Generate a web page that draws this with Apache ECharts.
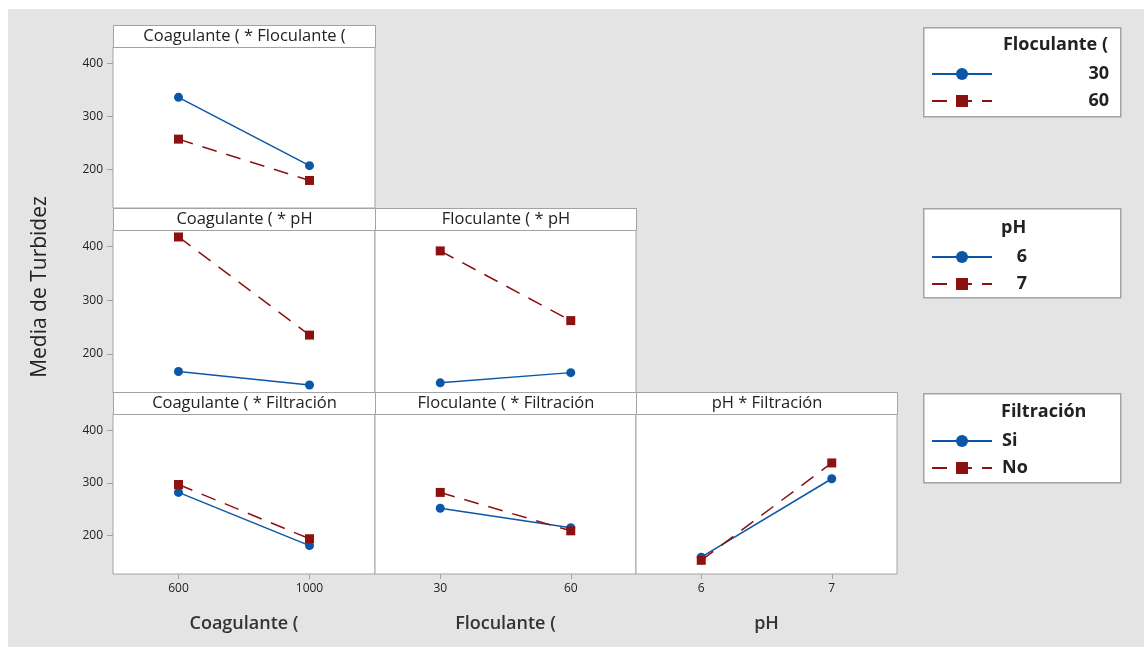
<!DOCTYPE html>
<html>
<head>
<meta charset="utf-8">
<title>Interacción para Media de Turbidez</title>
<script src="https://cdn.jsdelivr.net/npm/echarts@6/dist/echarts.min.js"></script>
<style>
  html, body { margin: 0; padding: 0; background: #fff; }
  #chart { width: 1144px; height: 647px; }
</style>
</head>
<body>
<div id="chart"></div>
<script>
// factor levels (x categories)
const coagLevels = ['600', '1000']
const flocLevels = ['30', '60']
const phLevels = ['6', '7']

// Coagulante * Floculante
const coagFloc30 = [336, 207]
const coagFloc60 = [257, 179]
// Coagulante * pH
const coagPh6 = [167, 142]
const coagPh7 = [418, 235]
// Floculante * pH
const flocPh6 = [146, 165]
const flocPh7 = [392, 262]
// Coagulante * Filtracion
const coagFiltSi = [282, 181]
const coagFiltNo = [297, 194]
// Floculante * Filtracion
const flocFiltSi = [252, 215]
const flocFiltNo = [282, 209]
// pH * Filtracion
const phFiltSi = [159, 308]
const phFiltNo = [153, 338]

const yTicks = [200, 300, 400]

const BLUE = '#0b56a6'
const RED = '#8c1212'
const FONT = '"Open Sans", "Noto Sans", sans-serif'
const BORDER = '#a3a3a3'

// panel layout: grid box, header text, x levels, series pair
const panels = [
  { box: [113, 47, 262, 161], head: 'Coagulante ( * Floculante (', cats: coagLevels, a: ['30', coagFloc30], b: ['60', coagFloc60], left: true, bottom: false },
  { box: [113, 230, 262, 163], head: 'Coagulante ( * pH', cats: coagLevels, a: ['6', coagPh6], b: ['7', coagPh7], left: true, bottom: false },
  { box: [375, 230, 261, 163], head: 'Floculante ( * pH', cats: flocLevels, a: ['6', flocPh6], b: ['7', flocPh7], left: false, bottom: false },
  { box: [113, 414, 262, 160], head: 'Coagulante ( * Filtración', cats: coagLevels, a: ['Si', coagFiltSi], b: ['No', coagFiltNo], left: true, bottom: true, xName: 'Coagulante (' },
  { box: [375, 414, 261, 160], head: 'Floculante ( * Filtración', cats: flocLevels, a: ['Si', flocFiltSi], b: ['No', flocFiltNo], left: false, bottom: true, xName: 'Floculante (' },
  { box: [636, 414, 261, 160], head: 'pH * Filtración', cats: phLevels, a: ['Si', phFiltSi], b: ['No', phFiltNo], left: false, bottom: true, xName: 'pH' }
]

const grids = []
const xAxes = []
const yAxes = []
const series = []
const graphics = [
  // grey plot background
  { type: 'rect', left: 8, top: 9, shape: { width: 1136, height: 638 }, style: { fill: '#e4e4e4' }, z: -10 }
]

panels.forEach(function (p, i) {
  grids.push({
    left: p.box[0], top: p.box[1], width: p.box[2], height: p.box[3],
    show: true, backgroundColor: '#fff', borderColor: BORDER, borderWidth: 1
  })
  xAxes.push({
    gridIndex: i,
    type: 'category',
    data: p.cats,
    boundaryGap: true,
    axisLine: { show: false },
    axisTick: { show: p.bottom, alignWithLabel: true, length: 5, lineStyle: { color: BORDER } },
    axisLabel: { show: p.bottom, margin: 9, fontSize: 12, color: '#222', fontFamily: FONT },
    name: p.xName || '',
    nameLocation: 'middle',
    nameGap: 41,
    nameTextStyle: { fontSize: 18, fontWeight: 600, color: '#333', fontFamily: FONT }
  })
  yAxes.push({
    gridIndex: i,
    type: 'value',
    min: 127,
    max: 431,
    splitLine: { show: false },
    axisLine: { show: false },
    axisTick: { show: p.left, length: 6, customValues: yTicks, lineStyle: { color: BORDER } },
    axisLabel: { show: p.left, margin: 10, fontSize: 12, color: '#222', fontFamily: FONT, customValues: yTicks }
  })
  series.push({
    name: p.a[0], type: 'line', xAxisIndex: i, yAxisIndex: i, data: p.a[1],
    symbol: 'circle', symbolSize: 9,
    lineStyle: { color: BLUE, width: 1.5 },
    itemStyle: { color: BLUE }
  })
  series.push({
    name: p.b[0], type: 'line', xAxisIndex: i, yAxisIndex: i, data: p.b[1],
    symbol: 'rect', symbolSize: 9,
    lineStyle: { color: RED, width: 1.5, type: [15, 10] },
    itemStyle: { color: RED }
  })
  // panel header strip
  graphics.push({
    type: 'group', left: p.box[0], top: p.box[1] - 22,
    children: [
      { type: 'rect', shape: { x: 0, y: 0, width: p.box[2], height: 22 }, style: { fill: '#fff', stroke: BORDER, lineWidth: 1 } },
      { type: 'text', x: p.box[2] / 2, y: 11, style: { text: p.head, fill: '#222', font: '16.5px ' + FONT, textAlign: 'center', textVerticalAlign: 'middle' } }
    ]
  })
})

// y-axis title
graphics.push({
  type: 'text', x: 40, y: 287, rotation: Math.PI / 2,
  style: { text: 'Media de Turbidez', fill: '#222', font: '21px ' + FONT, textAlign: 'center', textVerticalAlign: 'middle' }
})

// legend boxes and titles
const legendBoxes = [
  { top: 27, title: 'Floculante (', tx: 1108, ta: 'right', ty: 45 },
  { top: 208, title: 'pH', tx: 1001, ta: 'left', ty: 228 },
  { top: 393, title: 'Filtración', tx: 1001, ta: 'left', ty: 412 }
]
legendBoxes.forEach(function (l) {
  graphics.push({ type: 'rect', left: 923, top: l.top, shape: { width: 197, height: 89 }, style: { fill: '#fff', stroke: BORDER, lineWidth: 1.5 } })
  graphics.push({ type: 'text', x: l.tx, y: l.ty, style: { text: l.title, fill: '#222', font: 'bold 18px ' + FONT, textAlign: l.ta, textVerticalAlign: 'middle' } })
})

function legendItem(names, top, width, align, pad) {
  return {
    data: names,
    orient: 'vertical',
    left: 931,
    top: top,
    padding: 0,
    itemWidth: 60,
    itemHeight: 15,
    itemGap: 9,
    selectedMode: false,
    formatter: function (n) { return '{t|' + n + '}' },
    textStyle: {
      rich: { t: { width: width, align: align, padding: [0, 0, 0, pad], fontSize: 18, lineHeight: 18, fontWeight: 'bold', color: '#222', fontFamily: FONT } }
    }
  }
}

const chart = echarts.init(document.getElementById('chart'))
chart.setOption({
  animation: false,
  textStyle: { fontFamily: FONT },
  grid: grids,
  xAxis: xAxes,
  yAxis: yAxes,
  series: series,
  legend: [
    legendItem(['30', '60'], 65, 112, 'right', 0),
    legendItem(['6', '7'], 248, 30, 'right', 0),
    legendItem(['Si', 'No'], 432, 80, 'left', 5)
  ],
  graphic: graphics
})
</script>
</body>
</html>
